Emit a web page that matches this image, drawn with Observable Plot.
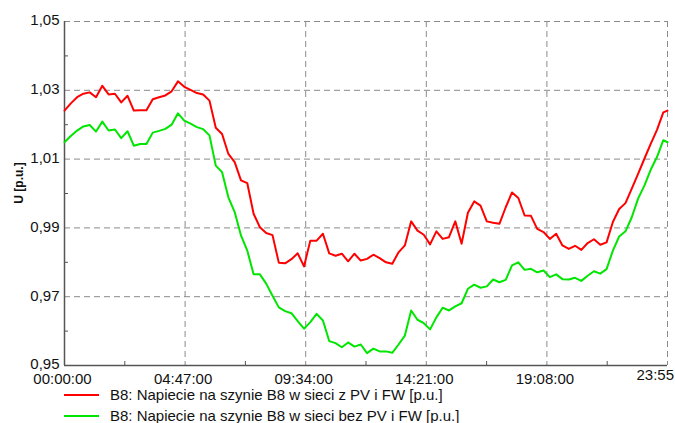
<!DOCTYPE html>
<html><head><meta charset="utf-8">
<script src="https://cdn.jsdelivr.net/npm/d3@7"></script>
<script src="https://cdn.jsdelivr.net/npm/@observablehq/plot@0.6"></script>
<style>
body{margin:0;background:#fff;font-family:"Liberation Sans",Arial,sans-serif;}
#chart{position:relative;height:384px;}
#legend{position:relative;height:39px;}
.item{position:absolute;left:64px;height:21px;display:flex;align-items:center;font-size:15px;color:#111;white-space:nowrap;}
.item .sw{display:inline-block;width:35px;height:2px;margin-right:11px;}
</style></head><body><div id="chart"></div><div id="legend"></div>
<script>
const seriesNames = [
  "B8: Napiecie na szynie B8 w sieci z PV i FW [p.u.]",
  "B8: Napiecie na szynie B8 w sieci bez PV i FW [p.u.]"
];
const seriesColors = ["#ff0000", "#00e600"];
const stepMinutes = 15;
const endMinutes = 1435;
const redValues = [
  1.0241,1.0262,1.0280,1.0290,1.0294,1.0280,1.0313,1.0288,1.0290,1.0265,
  1.0284,1.0241,1.0242,1.0242,1.0274,1.0280,1.0285,1.0297,1.0326,1.0310,
  1.0301,1.0292,1.0288,1.0270,1.0191,1.0173,1.0115,1.0091,1.0038,1.0030,
  0.9941,0.9902,0.9885,0.9879,0.9799,0.9797,0.9809,0.9826,0.9788,0.9863,
  0.9863,0.9883,0.9826,0.9819,0.9825,0.9803,0.9825,0.9805,0.9810,0.9822,
  0.9812,0.9800,0.9796,0.9829,0.9849,0.9919,0.9892,0.9880,0.9852,0.9890,
  0.9868,0.9873,0.9919,0.9854,0.9944,0.9977,0.9965,0.9919,0.9915,0.9912,
  0.9960,1.0003,0.9987,0.9936,0.9935,0.9897,0.9888,0.9868,0.9883,0.9849,
  0.9839,0.9848,0.9836,0.9856,0.9867,0.9851,0.9858,0.9917,0.9955,0.9972,
  1.0014,1.0057,1.0101,1.0144,1.0185,1.0236,1.0241
];
const greenValues = [
  1.0149,1.0167,1.0183,1.0195,1.0199,1.0180,1.0209,1.0183,1.0186,1.0161,
  1.0181,1.0139,1.0144,1.0144,1.0177,1.0182,1.0188,1.0200,1.0233,1.0212,
  1.0203,1.0193,1.0187,1.0169,1.0081,1.0062,0.9989,0.9946,0.9878,0.9834,
  0.9765,0.9765,0.9738,0.9703,0.9669,0.9658,0.9652,0.9629,0.9607,0.9626,
  0.9650,0.9631,0.9571,0.9565,0.9553,0.9567,0.9555,0.9561,0.9536,0.9549,
  0.9541,0.9541,0.9537,0.9561,0.9587,0.9660,0.9633,0.9623,0.9605,0.9640,
  0.9668,0.9660,0.9672,0.9681,0.9723,0.9735,0.9726,0.9730,0.9750,0.9742,
  0.9749,0.9791,0.9800,0.9778,0.9781,0.9771,0.9776,0.9757,0.9765,0.9751,
  0.9750,0.9755,0.9746,0.9761,0.9774,0.9767,0.9780,0.9834,0.9875,0.9890,
  0.9931,0.9985,1.0023,1.0069,1.0106,1.0155,1.0149
];
const xTickMinutes = [0, 287, 574, 861, 1148, 1435];
const xTickLabels = ["00:00:00", "04:47:00", "09:34:00", "14:21:00", "19:08:00", "23:55"];
const xMinorTicks = [143.5, 430.5, 717.5, 1004.5, 1291.5];
const yTicks = [0.95, 0.97, 0.99, 1.01, 1.03, 1.05];
const yMinorTicks = [0.96, 0.98, 1.00, 1.02, 1.04];
const yLabel = "U [p.u.]";

const rows = [];
[redValues, greenValues].forEach((vals, s) => {
  vals.forEach((v, i) => rows.push({series: seriesNames[s], t: Math.min(i * stepMinutes, endMinutes), v}));
});
const labelOf = new Map(xTickMinutes.map((m, i) => [m, xTickLabels[i]]));
const gridStyle = {stroke: "#8a8a8a", strokeOpacity: 1, strokeDasharray: "6,4", strokeWidth: 1};

const plot = Plot.plot({
  width: 675,
  height: 384,
  marginLeft: 64,
  marginRight: 8,
  marginTop: 21,
  marginBottom: 19,
  style: {fontFamily: "'Liberation Sans', Arial, sans-serif", fontSize: "15px", background: "white", overflow: "visible", color: "#111"},
  x: {domain: [0, endMinutes]},
  y: {domain: [0.95, 1.05]},
  color: {domain: seriesNames, range: seriesColors},
  marks: [
    Plot.gridY(yTicks.filter(d => d > 0.95), gridStyle),
    Plot.gridX(xTickMinutes.filter(d => d > 0), gridStyle),
    Plot.axisY(yTicks, {tickSize: 0, tickPadding: 5, dy: -1, tickFormat: d => d.toFixed(2).replace(".", ","), label: null, fontSize: 15}),
    Plot.axisY(yMinorTicks, {tickSize: -4, tickFormat: () => "", label: null, stroke: "#555"}),
    Plot.axisX(xTickMinutes.slice(0, 5), {tickSize: 0, tickPadding: 8, dx: -2, tickFormat: d => labelOf.get(d), label: null, fontSize: 15}),
    Plot.text([endMinutes], {x: d => d, y: 0.95, text: d => labelOf.get(d), frameAnchor: "bottom", dy: 14, dx: -31, textAnchor: "start", fontSize: 15, fill: "#111"}),
    Plot.axisX(xMinorTicks, {tickSize: -4, tickFormat: () => "", label: null, stroke: "#555"}),
    Plot.ruleX([0], {stroke: "#555", strokeWidth: 1.5}),
    Plot.ruleY([0.95], {stroke: "#555", strokeWidth: 1.5}),
    Plot.line(rows, {x: "t", y: "v", stroke: "series", z: "series", strokeWidth: 2})
  ]
});
document.getElementById("chart").appendChild(plot);

d3.select(plot).append("text")
  .attr("transform", "translate(23,183) rotate(-90)")
  .attr("text-anchor", "middle")
  .attr("font-weight", "bold")
  .attr("font-size", "12px")
  .attr("fill", "#111")
  .text(yLabel);

const legend = document.getElementById("legend");
seriesNames.forEach((name, i) => {
  const it = document.createElement("div");
  it.className = "item";
  it.style.top = (i * 21) + "px";
  const sw = document.createElement("span");
  sw.className = "sw";
  sw.style.background = seriesColors[i];
  it.appendChild(sw);
  it.appendChild(document.createTextNode(name));
  legend.appendChild(it);
});
</script></body></html>
